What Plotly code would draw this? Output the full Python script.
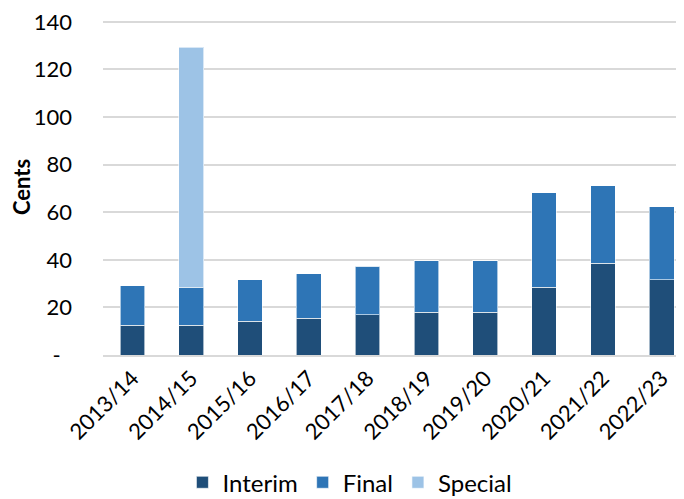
import plotly.graph_objects as go

years = ["2013/14", "2014/15", "2015/16", "2016/17", "2017/18",
         "2018/19", "2019/20", "2020/21", "2021/22", "2022/23"]
interim = [12.6, 12.6, 14.1, 15.5, 17.0, 18.0, 18.0, 28.5, 38.5, 31.6]
final = [16.5, 15.9, 17.5, 18.6, 20.2, 21.6, 21.6, 39.6, 32.7, 30.7]
special = [0, 100.9, 0, 0, 0, 0, 0, 0, 0, 0]

ytick_vals = [0, 20, 40, 60, 80, 100, 120, 140]
ytick_text = ["-\u00a0\u00a0", "20", "40", "60", "80", "100", "120", "140"]

font_family = "Lato, Open Sans, sans-serif"
xpos = list(range(len(years)))

fig = go.Figure()
line = dict(color="rgba(255,255,255,0.6)", width=1)
fig.add_trace(go.Bar(x=xpos, y=interim, name="Interim", marker=dict(color="#1F4E79", line=line), width=0.42))
fig.add_trace(go.Bar(x=xpos, y=final, name="Final", marker=dict(color="#2E75B6", line=line), width=0.42))
fig.add_trace(go.Bar(x=xpos, y=special, name="Special", marker=dict(color="#9DC3E6", line=line), width=0.42))

fig.update_layout(
    barmode="stack",
    width=676, height=491,
    margin=dict(l=95, r=0, t=11, b=143.5, autoexpand=False),
    paper_bgcolor="white", plot_bgcolor="white",
    font=dict(family=font_family, size=22, color="black"),
    showlegend=True,
    legend=dict(orientation="h", x=0.425, xanchor="center", y=-0.38, yanchor="middle",
                font=dict(size=24), itemwidth=30, traceorder="normal"),
    xaxis=dict(tickmode="array", tickvals=xpos, ticktext=years, range=[-0.5, 9.38],
               tickangle=-45, tickfont=dict(size=22), showgrid=False, automargin=False,
               showline=True, linecolor="#D9D9D9", linewidth=1.5, zeroline=False),
    yaxis=dict(range=[0, 141.2], tickmode="array", tickvals=ytick_vals, ticktext=ytick_text,
               showgrid=True, gridcolor="#D9D9D9", gridwidth=1.5, zeroline=False, automargin=False,
               ticklabelstandoff=30, tickfont=dict(size=22), ticklabeloverflow="allow",
               title=dict(text="<b>Cents</b>", font=dict(size=22), standoff=7)),
)
fig.write_html("out.html")
